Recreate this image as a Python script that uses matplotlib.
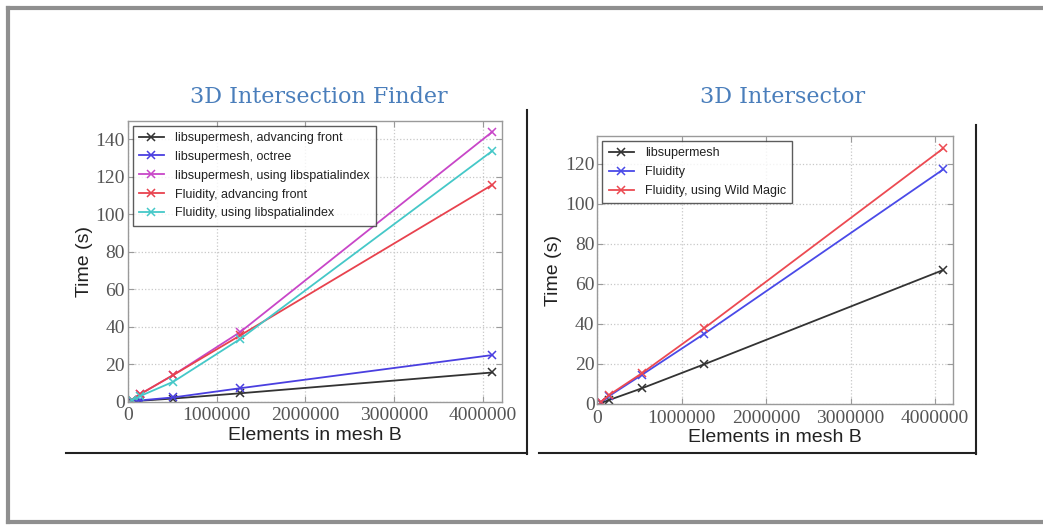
import matplotlib
matplotlib.use("Agg")
import matplotlib.pyplot as plt
from matplotlib.lines import Line2D

W, H = 1043, 527

# ---------------- data ----------------
x_finder = [45000, 140000, 515000, 1267000, 4105000]
finder_series = {
    "libsupermesh, advancing front": [0.1, 0.5, 1.7, 4.5, 15.6],
    "libsupermesh, octree": [0.2, 0.7, 2.3, 7.2, 24.9],
    "libsupermesh, using libspatialindex": [1.0, 4.0, 14.3, 37.2, 144.1],
    "Fluidity, advancing front": [1.0, 4.0, 14.3, 35.4, 115.8],
    "Fluidity, using libspatialindex": [0.8, 3.0, 10.7, 33.5, 133.9],
}
finder_colors = ["#333333", "#4a3fe0", "#c846c8", "#e8424e", "#45c8c8"]

x_inter = [45000, 140000, 525000, 1263000, 4098000]
inter_series = {
    "libsupermesh": [0.5, 2.0, 7.8, 19.8, 67.0],
    "Fluidity": [1.0, 4.0, 14.5, 35.0, 117.3],
    "Fluidity, using Wild Magic": [1.2, 4.5, 15.3, 37.8, 127.8],
}
inter_colors = ["#333333", "#4a4ae8", "#ec4a52"]

titles = ["3D Intersection Finder", "3D Intersector"]
xlabel = "Elements in mesh B"
ylabel = "Time (s)"
xticks = [0, 1000000, 2000000, 3000000, 4000000]
yticks_finder = [0, 20, 40, 60, 80, 100, 120, 140]
yticks_inter = [0, 20, 40, 60, 80, 100, 120]

# ---------------- figure ----------------
fig = plt.figure(figsize=(W / 100, H / 100), dpi=100)
fig.patch.set_facecolor("white")


def px_rect(x0, y0, x1, y1):
    return [x0 / W, 1 - y1 / H, (x1 - x0) / W, (y1 - y0) / H]


# slide frame and picture frames (figure-level lines)
frame_col = "#8f8f8f"
fig.add_artist(Line2D([8 / W, 8 / W], [1 - 8 / H, 1 - 522 / H], color=frame_col, lw=3, transform=fig.transFigure))
fig.add_artist(Line2D([8 / W, 1.0], [1 - 8 / H, 1 - 8 / H], color=frame_col, lw=3, transform=fig.transFigure))
fig.add_artist(Line2D([8 / W, 1.0], [1 - 522 / H, 1 - 522 / H], color=frame_col, lw=3, transform=fig.transFigure))
for (bx0, bx1, ty) in [(66, 527, 110), (539, 976, 125)]:
    fig.add_artist(Line2D([bx0 / W, bx1 / W], [1 - 453 / H, 1 - 453 / H], color="#222222", lw=1.5, transform=fig.transFigure))
    fig.add_artist(Line2D([bx1 / W, bx1 / W], [1 - ty / H, 1 - 454 / H], color="#222222", lw=1.5, transform=fig.transFigure))


def style_axes(ax, yticks, ylim):
    ax.set_xlim(0, 4210000)
    ax.set_ylim(*ylim)
    ax.set_xticks(xticks)
    ax.set_xticklabels([str(t) for t in xticks])
    ax.set_yticks(yticks)
    ax.set_yticklabels([str(t) for t in yticks])
    ax.grid(True, color="#c8c8c8", linestyle=":", linewidth=0.9)
    for sp in ax.spines.values():
        sp.set_color("#9a9a9a")
        sp.set_linewidth(1.0)
    ax.tick_params(direction="in", length=4, color="#9a9a9a", top=True, right=True,
                   labelsize=14, labelcolor="#555555")
    ax.tick_params(axis="x", pad=4)
    ax.tick_params(axis="y", pad=2)
    for lab in ax.get_xticklabels() + ax.get_yticklabels():
        lab.set_fontfamily("Liberation Serif")
    ax.set_xlabel(xlabel, fontsize=14, family="Liberation Sans", color="#222222", labelpad=2)
    ax.set_ylabel(ylabel, fontsize=14, family="Liberation Sans", color="#222222", labelpad=2)


def style_legend(ax):
    leg = ax.legend(loc="upper left", prop={"family": "Liberation Sans", "size": 9}, frameon=True,
                    fancybox=False, edgecolor="#333333", handlelength=2.0, borderaxespad=0.4,
                    labelspacing=0.55, handletextpad=0.9, borderpad=0.5)
    leg.get_frame().set_linewidth(1.0)
    for t in leg.get_texts():
        t.set_color("#222222")


# left plot
ax1 = fig.add_axes(px_rect(127.7, 120.7, 501.7, 401.7))
for (label, ys), c in zip(finder_series.items(), finder_colors):
    ax1.plot(x_finder, ys, color=c, marker="x", markersize=6, lw=1.3, mew=1.1, label=label)
style_axes(ax1, yticks_finder, (0, 150))
style_legend(ax1)

# right plot
ax2 = fig.add_axes(px_rect(597.3, 136, 952.7, 404))
for (label, ys), c in zip(inter_series.items(), inter_colors):
    ax2.plot(x_inter, ys, color=c, marker="x", markersize=6, lw=1.3, mew=1.1, label=label)
style_axes(ax2, yticks_inter, (0, 134))
style_legend(ax2)

# titles
title_col = "#4a7ebb"
fig.text(319 / W, 1 - 97 / H, titles[0], ha="center", va="center", fontsize=16,
         family="DejaVu Serif", color=title_col)
fig.text(783 / W, 1 - 97 / H, titles[1], ha="center", va="center", fontsize=16,
         family="DejaVu Serif", color=title_col)

fig.savefig("out.png", dpi=100, facecolor="white")
